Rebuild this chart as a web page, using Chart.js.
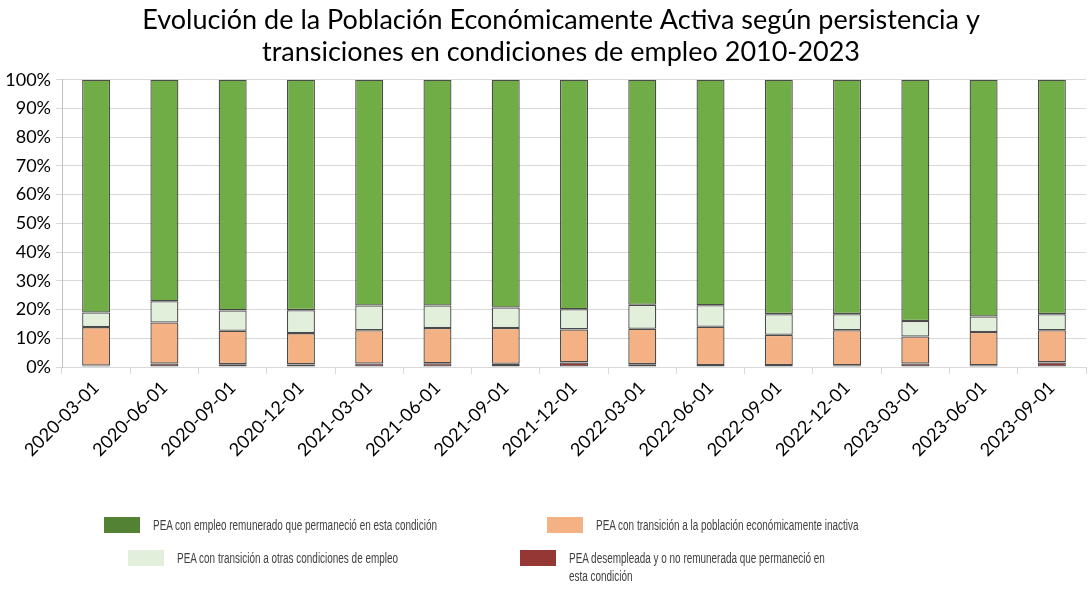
<!DOCTYPE html>
<html lang="es">
<head>
  <meta charset="UTF-8">
  <title>Evolución de la PEA</title>
  <script src="https://cdn.jsdelivr.net/npm/chart.js"></script>
  <style>
    body { margin: 0; background: #fff; }
    .wrap { position: relative; width: 1089px; height: 589px; }
    canvas { display: block; }
    .legend { position: absolute; left: 0; top: 0; width: 1089px; height: 589px; pointer-events: none;
      font-family: "Liberation Sans", Arial, sans-serif; font-size: 14px; color: #404040; }
    .item { position: absolute; display: flex; align-items: flex-start; white-space: nowrap; }
    .sw { width: 36px; height: 16px; margin-right: 13px; flex: none; }
    .item span { line-height: 18px; margin-top: -1px; display: inline-block; transform: scaleX(0.71); transform-origin: 0 0; }
  </style>
</head>
<body>
  <div class="wrap">
    <canvas id="chart" width="1089" height="589"></canvas>
    <div class="legend" id="legend"></div>
  </div>

  <script>
    // Datos (porcentajes)
    const fechas = ['2020-03-01', '2020-06-01', '2020-09-01', '2020-12-01', '2021-03-01',
      '2021-06-01', '2021-09-01', '2021-12-01', '2022-03-01', '2022-06-01',
      '2022-09-01', '2022-12-01', '2023-03-01', '2023-06-01', '2023-09-01'];
    const desempleada = [0.5, 1.2, 1.0, 0.9, 1.2, 1.3, 1.1, 1.6, 1.0, 0.7, 0.7, 0.6, 1.2, 0.6, 1.6];
    const transInactiva = [13.4, 14.3, 11.6, 10.9, 11.6, 12.3, 12.5, 11.5, 12.3, 13.3, 10.5, 12.2, 9.4, 11.6, 11.2];
    const transOtras = [5.1, 7.4, 7.1, 8.0, 8.6, 7.8, 7.1, 7.0, 8.4, 7.5, 7.2, 5.6, 5.4, 5.4, 5.6];
    const empleoRemunerado = [81.0, 77.1, 80.3, 80.2, 78.6, 78.6, 79.3, 79.9, 78.3, 78.5, 81.6, 81.6, 84.0, 82.4, 81.6];
    const yTicks = [0, 10, 20, 30, 40, 50, 60, 70, 80, 90, 100];

    const series = [
      { label: 'PEA desempleada y o no remunerada que permaneció en esta condición', data: desempleada, color: '#953735', legend: '#953735' },
      { label: 'PEA con transición a la población económicamente inactiva', data: transInactiva, color: '#F4B183', legend: '#F4B183' },
      { label: 'PEA con transición a otras condiciones de empleo', data: transOtras, color: '#E2EFDA', legend: '#E2EFDA' },
      { label: 'PEA con empleo remunerado que permaneció en esta condición', data: empleoRemunerado, color: '#70AD47', legend: '#548235' }
    ];

    // el título del original está algo desplazado a la derecha
    const shiftTitle = {
      id: 'shiftTitle',
      afterLayout(chart) {
        const t = chart.titleBlock;
        if (t) { t.left += 18; t.right += 18; }
      }
    };

    const ctx = document.getElementById('chart').getContext('2d');
    new Chart(ctx, {
      type: 'bar',
      data: {
        labels: fechas,
        datasets: series.map(s => ({
          label: s.label,
          data: s.data,
          backgroundColor: s.color,
          borderColor: 'rgba(30,30,30,0.8)',
          borderWidth: 1.3,
          borderSkipped: false,
          barPercentage: 0.41,
          categoryPercentage: 1
        }))
      },
      plugins: [shiftTitle],
      options: {
        responsive: false,
        animation: false,
        layout: { padding: { top: 4, right: 3, left: 0, bottom: 0 } },
        plugins: {
          legend: { display: false },
          tooltip: { enabled: false },
          title: {
            display: true,
            text: ['Evolución de la Población Económicamente Activa según persistencia y',
                   'transiciones en condiciones de empleo 2010-2023'],
            font: { family: 'Lato, "Open Sans", sans-serif', size: 27, weight: 'normal', lineHeight: 1.2 },
            color: '#000',
            padding: { top: 0, bottom: 11 }
          }
        },
        scales: {
          x: {
            stacked: true,
            afterFit: s => { s.height = 222; },
            grid: { drawOnChartArea: false, offset: true, tickLength: 7, color: '#d9d9d9' },
            border: { color: '#d9d9d9' },
            ticks: {
              minRotation: 45, maxRotation: 45,
              color: '#000',
              font: { family: 'Lato, "Open Sans", sans-serif', size: 18 }
            }
          },
          y: {
            stacked: true,
            min: 0, max: 100,
            afterFit: s => { s.width = 62; },
            afterBuildTicks: s => { s.ticks = yTicks.map(v => ({ value: v })); },
            grid: { color: '#d9d9d9', tickLength: 6 },
            border: { color: '#bfbfbf' },
            ticks: {
              color: '#000',
              padding: 5,
              font: { family: 'Lato, "Open Sans", sans-serif', size: 18 },
              callback: v => v + '%'
            }
          }
        }
      }
    });

    // Leyenda en HTML (dos filas desplazadas como en el original)
    const legendPos = [
      { i: 3, x: 104, y: 517 },
      { i: 1, x: 547, y: 517 },
      { i: 2, x: 128, y: 550 },
      { i: 0, x: 520, y: 550 }
    ];
    const legendEl = document.getElementById('legend');
    legendPos.forEach(p => {
      const s = series[p.i];
      const div = document.createElement('div');
      div.className = 'item';
      div.style.left = p.x + 'px';
      div.style.top = p.y + 'px';
      const sw = document.createElement('div');
      sw.className = 'sw';
      sw.style.background = s.legend;
      const txt = document.createElement('span');
      if (p.i === 0) {
        txt.innerHTML = 'PEA desempleada y o no remunerada que permaneció en<br>esta condición';
      } else {
        txt.textContent = s.label;
      }
      div.appendChild(sw);
      div.appendChild(txt);
      legendEl.appendChild(div);
    });
  </script>
</body>
</html>
